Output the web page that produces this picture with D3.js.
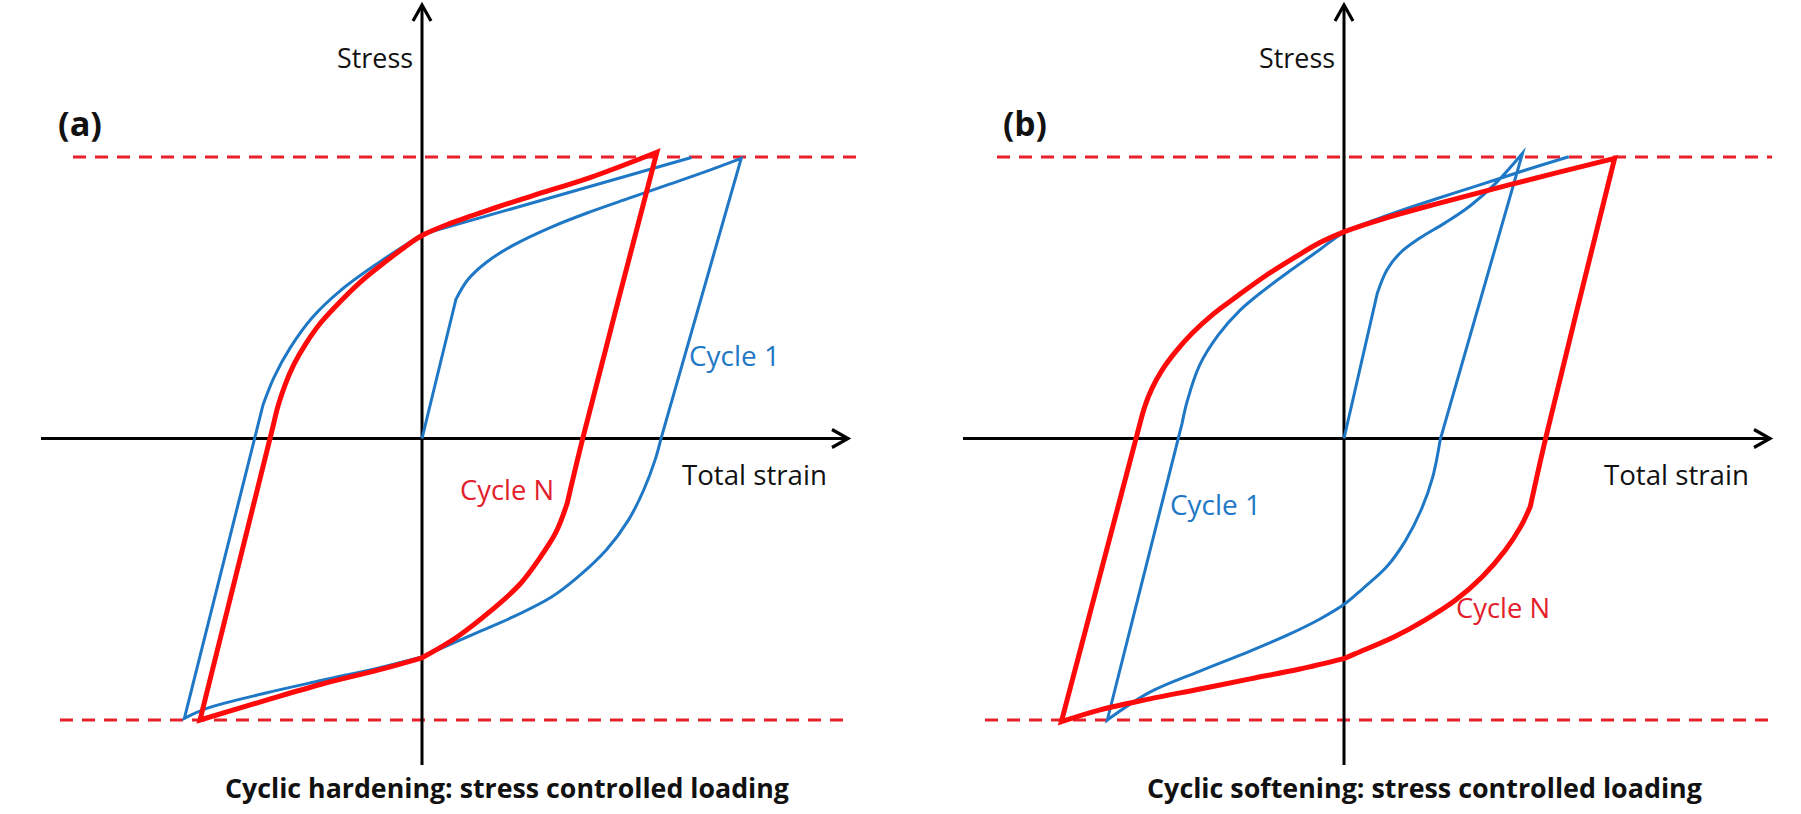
<!DOCTYPE html>
<html><head><meta charset="utf-8">
<script src="https://cdn.jsdelivr.net/npm/d3@7"></script>
<style>html,body{margin:0;background:#fff;}svg{display:block;}</style>
</head><body>
<svg id="chart" width="1801" height="814"></svg>
<script>
// ---------------- DATA ----------------
const panelTags = ["(a)", "(b)"];
const captions = ["Cyclic hardening: stress controlled loading", "Cyclic softening: stress controlled loading"];
const xAxisLabel = "Total strain";
const yAxisLabel = "Stress";
const seriesNames = ["Cycle 1", "Cycle N"];
const stressLimits = [-100, 100];          // stress-controlled amplitude (dashed lines)
const strainAxisExtent = [-127, 142];      // drawn extent of strain axis
const stressAxisExtent = [-116, 154];      // drawn extent of stress axis

// each series = list of segments (joined with corners), each segment = [strain, stress] points
const hardeningCycle1 = [
  [[0,0],[11.3,49.4]],
  [[11.3,49.4],[15.2,56.3],[21.6,62.7],[30.5,68.7],[43.3,75.2],[56.0,80.5],[68.8,85.3],[81.6,90.0],[94.3,94.7],[106.4,99.5]],
  [[106.4,99.5],[79.6,-0.3]],
  [[79.6,-0.3],[77.7,-7.6],[73.9,-18.3],[68.8,-29],[61.5,-39.5],[51.6,-49.5],[43.3,-56.2],[30.5,-63.3],[17.8,-69.2],[0,-77.6]],
  [[0,-77.6],[-14.1,-81.4],[-33.3,-85.9],[-52.4,-90.5],[-71.5,-95.8],[-79.2,-99.4]],
  [[-79.2,-99.4],[-53,11.9]],
  [[-53,11.9],[-49.3,21.8],[-44,32.1],[-36.7,42.8],[-27,52.7],[-14.7,62.3],[0,72.5]],
  [[0,72.5],[89.8,99.8]]
];
const hardeningCycleN = [
  [[-74,-100],[-49.5,5]],
  [[-49.5,5],[-48,11.5],[-45.7,18.9],[-42.7,26.3],[-38.7,33.7],[-33.7,41.2],[-27.3,48.6],[-20,56.1],[-11.7,63.2],[-6,67.8],[0,72.1],[9.4,76.4],[22.8,81.4],[37,86.3],[56,92.7],[78.3,101.7]],
  [[78.3,101.7],[53.5,-0.3],[48.4,-23]],
  [[48.4,-23],[44.7,-33.2],[39.3,-42.4],[32.7,-51.7],[23.3,-60.9],[11.7,-70.5],[0,-77.9]],
  [[0,-77.9],[-14.1,-82.1],[-33.3,-87.2],[-52.4,-93.1],[-74,-100]]
];
const softeningCycle1 = [
  [[0,0],[11.1,51.6]],
  [[11.1,51.6],[14.3,59.9],[18.7,65.9],[25.3,71.2],[33.7,76.6],[42,82.6],[50.7,90.8],[59.5,101.3]],
  [[59.5,101.3],[32.1,-0.3]],
  [[32.1,-0.3],[29.6,-13.6],[25.7,-25.4],[20.6,-36.1],[14.3,-45.5],[6.3,-53.3],[0.2,-58.8],[-8,-64.1],[-18,-69.4],[-31.3,-75.5],[-48,-82.6],[-64.7,-90.1],[-78.9,-100]],
  [[-78.9,-100],[-54,5.3]],
  [[-54,5.3],[-52.2,13.5],[-48.2,25.9],[-42,36.6],[-34.7,45.5],[-26.3,53],[-17.3,60.1],[-8.7,66.6],[0.2,73.3],[15.3,79.6],[30.3,85],[45.3,90.1],[60.3,95.3],[74.9,100.1]]
];
const softeningCycleN = [
  [[-94.2,-100.6],[-68,5.4]],
  [[-68,5.4],[-66.3,11.7],[-64,17.8],[-60.7,24.2],[-56.3,30.6],[-50.7,37.3],[-43.7,44.1],[-35.3,50.8],[-26,57.9],[-16,64.6],[-8,69.6],[0.2,73.5],[12,77.7],[29.6,83],[55,90.1],[90.2,99.5]],
  [[90.2,99.5],[67.2,0],[62.1,-24.2]],
  [[62.1,-24.2],[58.9,-31.3],[53.8,-39.6],[46.1,-49.1],[37.2,-57.4],[27,-64.5],[16.8,-70.4],[4.1,-76.3],[0.2,-78.1]],
  [[0.2,-78.1],[-14.7,-81.9],[-31.3,-85.4],[-48,-89],[-64.7,-92.5],[-81.3,-96.4],[-94.2,-100.6]]
];

// ---------------- LAYOUT / STYLE ----------------
const BLUE = "#1f78c6", RED = "#ff0a0a", DASH = "#e8202a", RED_TEXT = "#e3202b";
const FONT = "'Open Sans', Lato, sans-serif";
const panels = [
  { origin: 422, tagX: 58, c1: [689, 366], cN: [460, 500], dashTop: [73, 862], dashBot: [60, 851], capW: 564,
    cycle1: hardeningCycle1, cycleN: hardeningCycleN },
  { origin: 1344, tagX: 1003, c1: [1170, 515], cN: [1456, 618], dashTop: [997, 1772], dashBot: [985, 1773], capW: 555,
    cycle1: softeningCycle1, cycleN: softeningCycleN }
];

const svg = d3.select("#chart");
const y = d3.scaleLinear().domain(stressLimits).range([720, 157]);

panels.forEach((p, i) => {
  const x = d3.scaleLinear().domain([-100, 100]).range([p.origin - 300, p.origin + 300]);
  const g = svg.append("g");
  const seg = d3.line().x(d => x(d[0])).y(d => y(d[1])).curve(d3.curveCatmullRom.alpha(0.5));
  const pathFor = segs => {
    let d = segs.map((s, k) => k ? seg(s).replace(/^M/, "L") : seg(s)).join("");
    const a = segs[0][0], b = segs[segs.length - 1][segs[segs.length - 1].length - 1];
    if (a[0] === b[0] && a[1] === b[1]) d += "Z";
    return d;
  };

  // dashed stress limits
  [[p.dashTop, stressLimits[1]], [p.dashBot, stressLimits[0]]].forEach(([ext, s]) => {
    g.append("line").attr("x1", ext[0]).attr("x2", ext[1]).attr("y1", y(s)).attr("y2", y(s))
      .attr("stroke", DASH).attr("stroke-width", 3).attr("stroke-dasharray", "13 9");
  });

  // axes with open arrowheads
  const x0 = x(0), y0 = y(0);
  const xa = [x(strainAxisExtent[0]), x(strainAxisExtent[1])];
  const ya = [y(stressAxisExtent[0]), y(stressAxisExtent[1])];
  g.append("line").attr("x1", xa[0]).attr("x2", xa[1] - 1).attr("y1", y0).attr("y2", y0)
    .attr("stroke", "#000").attr("stroke-width", 3);
  g.append("path").attr("d", `M${xa[1]-16},${y0-9}L${xa[1]},${y0}L${xa[1]-16},${y0+9}`)
    .attr("fill", "none").attr("stroke", "#000").attr("stroke-width", 3.2);
  g.append("line").attr("x1", x0).attr("x2", x0).attr("y1", ya[0]).attr("y2", ya[1] + 1)
    .attr("stroke", "#000").attr("stroke-width", 3);
  g.append("path").attr("d", `M${x0-9},${ya[1]+16}L${x0},${ya[1]}L${x0+9},${ya[1]+16}`)
    .attr("fill", "none").attr("stroke", "#000").attr("stroke-width", 3.2);

  // hysteresis loops
  g.append("path").attr("d", pathFor(p.cycle1)).attr("fill", "none").attr("stroke", BLUE)
    .attr("stroke-width", 3).attr("stroke-linejoin", "miter").attr("stroke-miterlimit", 6);
  g.append("path").attr("d", pathFor(p.cycleN)).attr("fill", "none").attr("stroke", RED)
    .attr("stroke-width", 5).attr("stroke-linejoin", "miter").attr("stroke-miterlimit", 4);

  // texts (font size fitted to the measured width of the reference text)
  const txt = (t, tx, ty, w, opt = {}) => {
    const el = g.append("text").attr("x", tx).attr("y", ty).text(t)
      .attr("font-family", FONT).attr("font-size", 28).attr("font-weight", opt.weight || 400)
      .attr("fill", opt.fill || "#111").attr("text-anchor", opt.anchor || "start");
    const L = el.node().getComputedTextLength();
    if (L > 0) el.attr("font-size", (28 * w / L).toFixed(2));
    return el;
  };
  txt(yAxisLabel, x0 - 9, 68, 76, { anchor: "end" });
  txt(xAxisLabel, x0 + 260, 485, 145);
  txt(panelTags[i], p.tagX, 136, 44, { weight: 700 });
  txt(seriesNames[0], p.c1[0], p.c1[1], 91, { fill: BLUE });
  txt(seriesNames[1], p.cN[0], p.cN[1], 94, { fill: RED_TEXT });
  txt(captions[i], x0 - 197, 798, p.capW, { weight: 700 });
});
</script>
</body></html>
